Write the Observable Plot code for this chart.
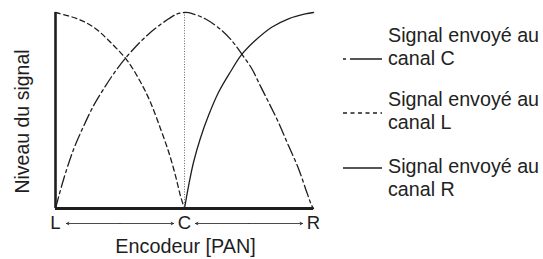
<!DOCTYPE html>
<html><head><meta charset="utf-8">
<script src="https://cdn.jsdelivr.net/npm/d3@7"></script>
<script src="https://cdn.jsdelivr.net/npm/@observablehq/plot@0.6"></script>
<style>
body{margin:0;background:#fff;}
#wrap{position:relative;width:543px;height:259px;font-family:"Liberation Sans",Arial,Helvetica,sans-serif;color:#222;}
#wrap svg{position:absolute;left:0;top:0;}
.leg{position:absolute;left:388px;font-size:19.7px;line-height:23px;white-space:nowrap;color:#222;}
</style></head>
<body><div id="wrap"></div>
<script>
// Pan axis
const panLabels = ["L", "C", "R"];
const panPositions = [0, 50, 100];
const axisTitleX = "Encodeur [PAN]";
const axisTitleY = "Niveau du signal";

// Curves: [pan position, signal level %]
const curveL = [[0,100],[8.4,96.8],[14.8,92.5],[21.3,84.8],[27.8,75.5],[33.0,64.4],[36.8,54.2],[40.7,40.7],[43.9,28.7],[46.5,16.8],[48.4,6.6],[50,0]];
const curveC = [[0,0],[3.2,15.2],[7.1,30.5],[11.0,42.3],[14.8,52.6],[18.7,61.1],[23.9,71.3],[29.1,79.7],[35.5,88.3],[42.0,95.1],[47.2,99.3],[50,100],
                [51.6,99.9],[58.0,96.8],[64.5,90.8],[68.3,85.7],[72.2,78.8],[76.1,71.3],[79.3,62.8],[82.6,54.2],[86.4,44.0],[90.3,32.1],[94.2,20.3],[97.4,8.3],[99.3,1.5],[100,0]];
const curveR = [[50,0],[51.6,11.7],[53.5,23.6],[56.1,35.6],[59.3,47.4],[63.2,59.3],[67.7,69.5],[72.2,78.6],[77.4,85.7],[83.8,92.5],[90.3,96.8],[96.8,99.3],[100,100]];

// Legend
const legendLines = [["Signal envoyé au", "canal C"], ["Signal envoyé au", "canal L"], ["Signal envoyé au", "canal R"]];
const legendDash = ["3,4,32", "4,3.5", null];

const toRows = a => a.map(([x, y]) => ({x, y}));
const pan = panLabels.map((label, i) => ({label, x: panPositions[i]}));
const arrows = [];
for (let i = 0; i < pan.length - 1; i++) {
  const mid = (pan[i].x + pan[i + 1].x) / 2;
  arrows.push({x1: mid, x2: pan[i].x}, {x1: mid, x2: pan[i + 1].x});
}
const ink = "#1e1e1e";

const chart = Plot.plot({
  width: 543, height: 259,
  marginLeft: 55, marginRight: 230, marginTop: 12, marginBottom: 51,
  x: {domain: [0, 100], axis: null},
  y: {domain: [0, 100], axis: null},
  style: {fontFamily: '"Liberation Sans", Arial, Helvetica, sans-serif', color: ink, background: "transparent"},
  marks: [
    Plot.ruleX([50], {y1: 0, y2: 100, stroke: "#666", strokeWidth: 1, strokeDasharray: "1,1.6"}),
    Plot.line(toRows(curveL), {x: "x", y: "y", curve: "catmull-rom", stroke: ink, strokeWidth: 1.3, strokeDasharray: "5,3.5"}),
    Plot.line(toRows(curveC), {x: "x", y: "y", curve: "catmull-rom", stroke: ink, strokeWidth: 1.3, strokeDasharray: "12,3.5,3,3.5"}),
    Plot.line(toRows(curveR), {x: "x", y: "y", curve: "catmull-rom", stroke: ink, strokeWidth: 1.3}),
    Plot.ruleX([0], {y1: 0, y2: 100, stroke: ink, strokeWidth: 2.6}),
    Plot.ruleY([0], {x1: 0, x2: 100, stroke: ink, strokeWidth: 3}),
    Plot.text(pan, {x: "x", y: () => 0, text: "label", dy: 15, fontSize: 18.5, fill: ink, lineAnchor: "middle"}),
    Plot.arrow(arrows, {x1: "x1", x2: "x2", y1: () => 0, y2: () => 0, dy: 15, insetEnd: 11, bend: 0, headLength: 5, headAngle: 55, stroke: ink, strokeWidth: 0.8}),
    Plot.text([axisTitleX], {frameAnchor: "bottom", dy: 38, fontSize: 19.8, fill: ink, lineAnchor: "middle", textAnchor: "middle", dx: 1}),
    Plot.text([axisTitleY], {frameAnchor: "left", rotate: -90, dx: -33, dy: 11, fontSize: 19.5, fill: ink, textAnchor: "middle", lineAnchor: "middle"})
  ]
});
const wrap = document.getElementById("wrap");
wrap.appendChild(chart);

// legend
const legTops = [23.5, 88, 155];
const legLineY = [59, 113, 168];
const svg = d3.select(wrap).append("svg").attr("width", 543).attr("height", 259);
legendLines.forEach((lines, i) => {
  d3.select(wrap).append("div").attr("class", "leg").style("top", legTops[i] + "px").html(lines.join("<br>"));
  const l = svg.append("line").attr("x1", 343).attr("x2", 382).attr("y1", legLineY[i]).attr("y2", legLineY[i])
    .attr("stroke", ink).attr("stroke-width", 1.3);
  if (legendDash[i]) l.attr("stroke-dasharray", legendDash[i]);
});
</script>
</body></html>
